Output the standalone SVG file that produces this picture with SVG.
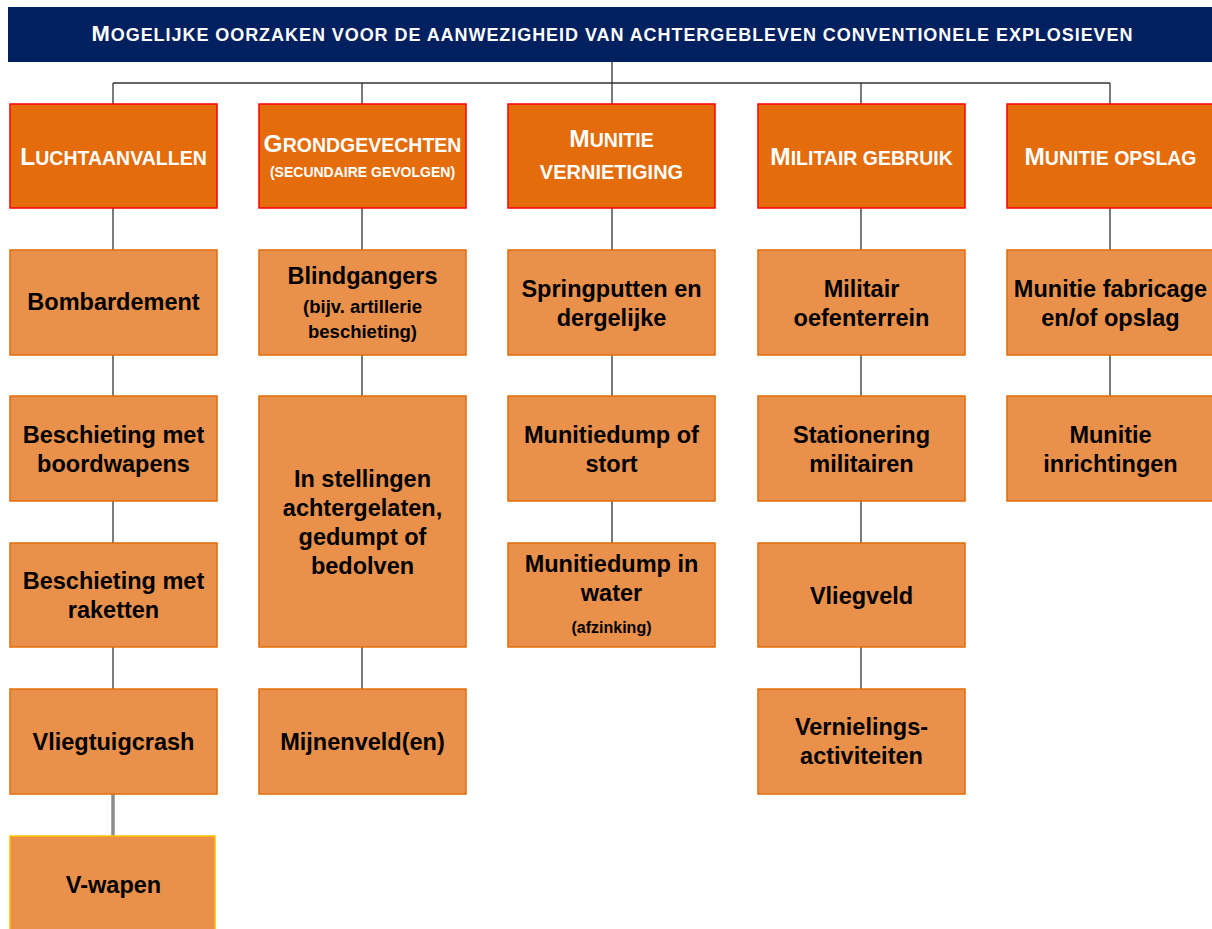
<svg xmlns="http://www.w3.org/2000/svg" width="1212" height="929" viewBox="0 0 1212 929">
<style>
  .title { fill: #002060; }
  .l1 { fill: #E46C0A; stroke: #FF0000; stroke-width: 1.5; }
  .l2 { fill: #E9904A; stroke: #E46C0A; stroke-width: 1.5; }
  .l2y { fill: #E9904A; stroke: #FFC000; stroke-width: 1.5; }
  .tt { font-family: "Liberation Sans", Arial, sans-serif; font-weight: bold; fill: #FFFFFF; text-anchor: middle; }
  .t2 { font-family: "Liberation Sans", Arial, sans-serif; font-weight: bold; fill: #000000; text-anchor: middle; font-size: 23.5px; }
  .sm { font-size: 18.5px; }
  .xs { font-size: 16px; }
  .big { font-size: 24.5px; }
  .sc { font-size: 19.5px; }
  .conn line { stroke: #333333; stroke-width: 1.3; }
</style>
<rect width="1212" height="929" fill="#FFFFFF"/>

<g id="connectors" class="conn">
  <line x1="612" y1="62" x2="612" y2="83"/>
  <line x1="113" y1="83" x2="1110" y2="83"/>
  <line x1="113" y1="83" x2="113" y2="104"/>
  <line x1="362" y1="83" x2="362" y2="104"/>
  <line x1="612" y1="83" x2="612" y2="104"/>
  <line x1="861" y1="83" x2="861" y2="104"/>
  <line x1="1110" y1="83" x2="1110" y2="104"/>
  <!-- col 1 -->
  <line x1="113" y1="208" x2="113" y2="250"/>
  <line x1="113" y1="355" x2="113" y2="396"/>
  <line x1="113" y1="501" x2="113" y2="543"/>
  <line x1="113" y1="647" x2="113" y2="689"/>
  <line x1="113" y1="794" x2="113" y2="836" style="stroke:#8C8C8C;stroke-width:3.5"/>
  <!-- col 2 -->
  <line x1="362" y1="208" x2="362" y2="250"/>
  <line x1="362" y1="355" x2="362" y2="396"/>
  <line x1="362" y1="647" x2="362" y2="689"/>
  <!-- col 3 -->
  <line x1="612" y1="208" x2="612" y2="250"/>
  <line x1="612" y1="355" x2="612" y2="396"/>
  <line x1="612" y1="501" x2="612" y2="543"/>
  <!-- col 4 -->
  <line x1="861" y1="208" x2="861" y2="250"/>
  <line x1="861" y1="355" x2="861" y2="396"/>
  <line x1="861" y1="501" x2="861" y2="543"/>
  <line x1="861" y1="647" x2="861" y2="689"/>
  <!-- col 5 -->
  <line x1="1110" y1="208" x2="1110" y2="250"/>
  <line x1="1110" y1="355" x2="1110" y2="396"/>
</g>

<g id="title">
  <rect class="title" x="8" y="7" width="1210" height="55"/>
  <text class="tt" x="612" y="41" textLength="1041"><tspan style="font-size:22px">M</tspan><tspan style="font-size:18px">OGELIJKE OORZAKEN VOOR DE AANWEZIGHEID VAN ACHTERGEBLEVEN CONVENTIONELE EXPLOSIEVEN</tspan></text>
</g>

<!-- Level 1 -->
<g id="luchtaanvallen">
  <rect class="l1" x="10" y="104" width="207" height="104"/>
  <text class="tt" x="113.5" y="165"><tspan class="big">L</tspan><tspan class="sc">UCHTAANVALLEN</tspan></text>
</g>
<g id="grondgevechten">
  <rect class="l1" x="259" y="104" width="207" height="104"/>
  <text class="tt" x="362.5" y="152"><tspan class="big">G</tspan><tspan class="sc">RONDGEVECHTEN</tspan></text>
  <text class="tt" x="362.5" y="177" style="font-size:14px">(SECUNDAIRE GEVOLGEN)</text>
</g>
<g id="munitie-vernietiging">
  <rect class="l1" x="508" y="104" width="207" height="104"/>
  <text class="tt" x="611.5" y="147"><tspan class="big">M</tspan><tspan class="sc">UNITIE</tspan></text>
  <text class="tt" x="611.5" y="179" style="font-size:20px">VERNIETIGING</text>
</g>
<g id="militair-gebruik">
  <rect class="l1" x="758" y="104" width="207" height="104"/>
  <text class="tt" x="861.5" y="165"><tspan class="big">M</tspan><tspan class="sc">ILITAIR GEBRUIK</tspan></text>
</g>
<g id="munitie-opslag">
  <rect class="l1" x="1007" y="104" width="207" height="104"/>
  <text class="tt" x="1110.5" y="165"><tspan class="big">M</tspan><tspan class="sc">UNITIE OPSLAG</tspan></text>
</g>

<!-- Column 1 -->
<g id="bombardement">
  <rect class="l2" x="10" y="250" width="207" height="105"/>
  <text class="t2" x="113.5" y="310">Bombardement</text>
</g>
<g id="boordwapens">
  <rect class="l2" x="10" y="396" width="207" height="105"/>
  <text class="t2" x="113.5" y="443">Beschieting met</text>
  <text class="t2" x="113.5" y="472">boordwapens</text>
</g>
<g id="raketten">
  <rect class="l2" x="10" y="543" width="207" height="104"/>
  <text class="t2" x="113.5" y="589">Beschieting met</text>
  <text class="t2" x="113.5" y="618">raketten</text>
</g>
<g id="vliegtuigcrash">
  <rect class="l2" x="10" y="689" width="207" height="105"/>
  <text class="t2" x="113.5" y="750">Vliegtuigcrash</text>
</g>
<g id="v-wapen">
  <rect class="l2y" x="10" y="836" width="205" height="100"/>
  <text class="t2" x="113.5" y="893">V-wapen</text>
</g>

<!-- Column 2 -->
<g id="blindgangers">
  <rect class="l2" x="259" y="250" width="207" height="105"/>
  <text class="t2" x="362.5" y="284">Blindgangers</text>
  <text class="t2 sm" x="362.5" y="313">(bijv. artillerie</text>
  <text class="t2 sm" x="362.5" y="338">beschieting)</text>
</g>
<g id="stellingen">
  <rect class="l2" x="259" y="396" width="207" height="251"/>
  <text class="t2" x="362.5" y="487">In stellingen</text>
  <text class="t2" x="362.5" y="516">achtergelaten,</text>
  <text class="t2" x="362.5" y="545">gedumpt of</text>
  <text class="t2" x="362.5" y="574">bedolven</text>
</g>
<g id="mijnenveld">
  <rect class="l2" x="259" y="689" width="207" height="105"/>
  <text class="t2" x="362.5" y="750">Mijnenveld(en)</text>
</g>

<!-- Column 3 -->
<g id="springputten">
  <rect class="l2" x="508" y="250" width="207" height="105"/>
  <text class="t2" x="611.5" y="297">Springputten en</text>
  <text class="t2" x="611.5" y="326">dergelijke</text>
</g>
<g id="munitiedump-stort">
  <rect class="l2" x="508" y="396" width="207" height="105"/>
  <text class="t2" x="611.5" y="443">Munitiedump of</text>
  <text class="t2" x="611.5" y="472">stort</text>
</g>
<g id="munitiedump-water">
  <rect class="l2" x="508" y="543" width="207" height="104"/>
  <text class="t2" x="611.5" y="572">Munitiedump in</text>
  <text class="t2" x="611.5" y="601">water</text>
  <text class="t2 xs" x="611.5" y="633">(afzinking)</text>
</g>

<!-- Column 4 -->
<g id="oefenterrein">
  <rect class="l2" x="758" y="250" width="207" height="105"/>
  <text class="t2" x="861.5" y="297">Militair</text>
  <text class="t2" x="861.5" y="326">oefenterrein</text>
</g>
<g id="stationering">
  <rect class="l2" x="758" y="396" width="207" height="105"/>
  <text class="t2" x="861.5" y="443">Stationering</text>
  <text class="t2" x="861.5" y="472">militairen</text>
</g>
<g id="vliegveld">
  <rect class="l2" x="758" y="543" width="207" height="104"/>
  <text class="t2" x="861.5" y="604">Vliegveld</text>
</g>
<g id="vernielings">
  <rect class="l2" x="758" y="689" width="207" height="105"/>
  <text class="t2" x="861.5" y="735">Vernielings-</text>
  <text class="t2" x="861.5" y="764">activiteiten</text>
</g>

<!-- Column 5 -->
<g id="fabricage">
  <rect class="l2" x="1007" y="250" width="207" height="105"/>
  <text class="t2" x="1110.5" y="297">Munitie fabricage</text>
  <text class="t2" x="1110.5" y="326">en/of opslag</text>
</g>
<g id="inrichtingen">
  <rect class="l2" x="1007" y="396" width="207" height="105"/>
  <text class="t2" x="1110.5" y="443">Munitie</text>
  <text class="t2" x="1110.5" y="472">inrichtingen</text>
</g>
</svg>
